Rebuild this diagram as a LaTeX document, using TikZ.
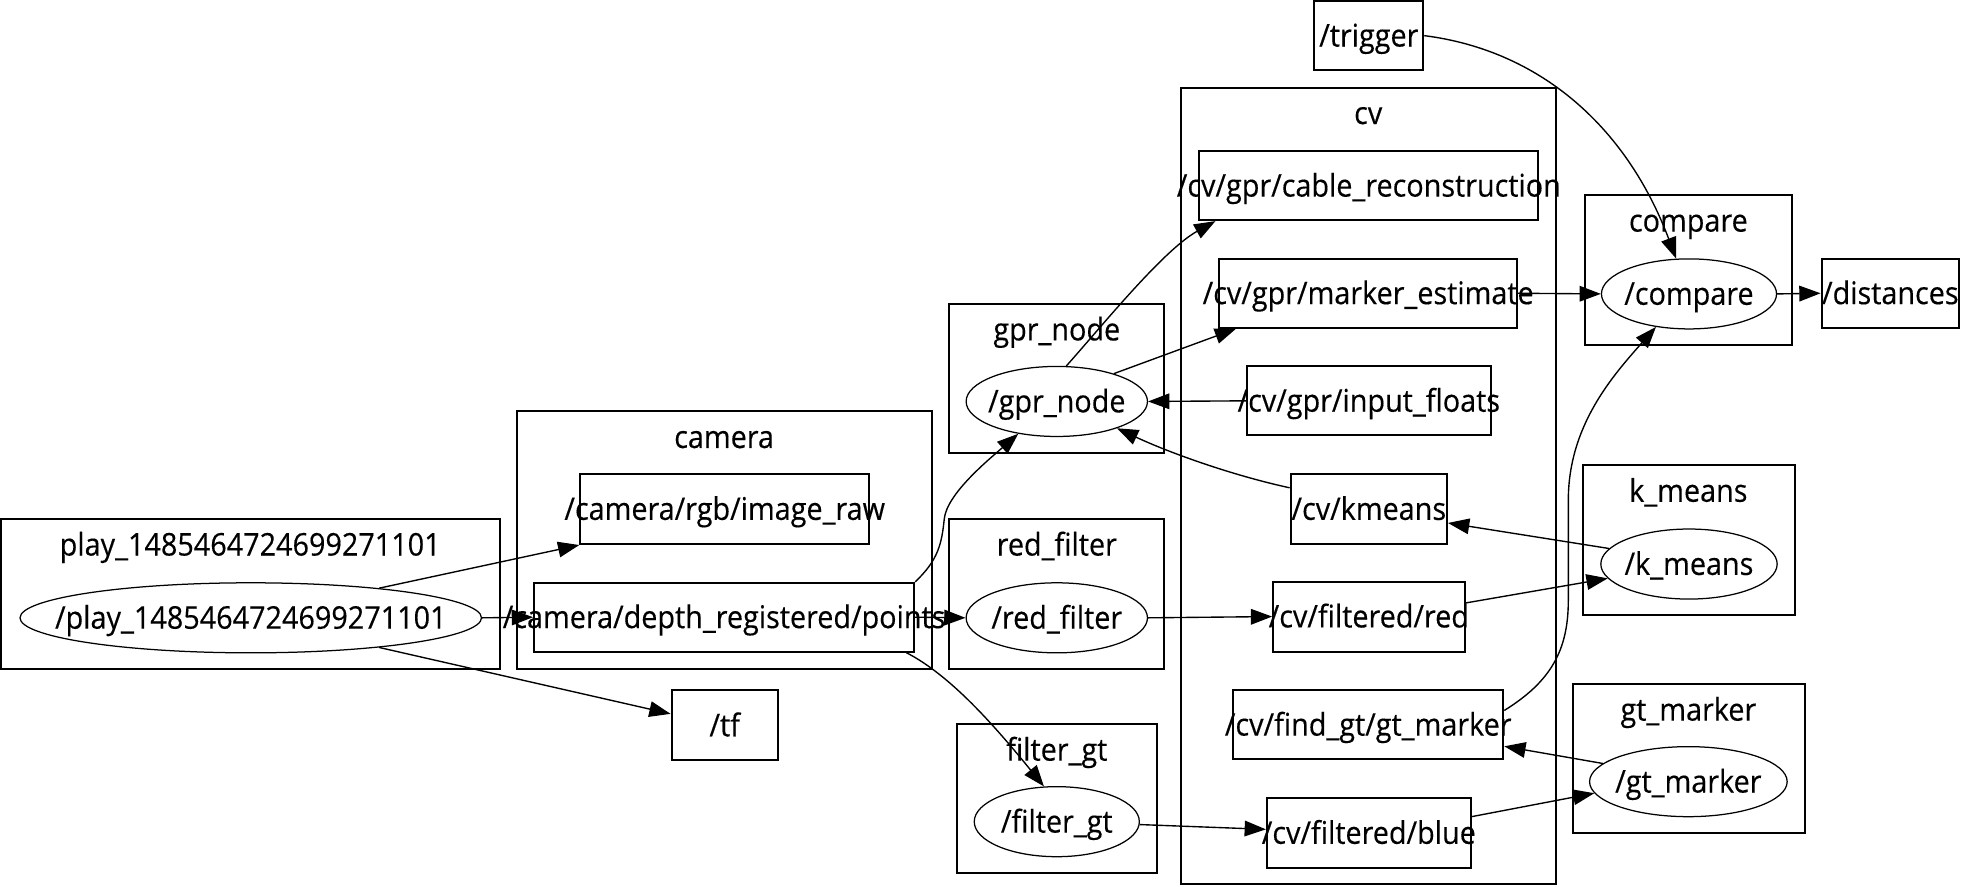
\documentclass[tikz,border=0pt]{standalone}
\usepackage{fontspec}
\setmainfont[FakeBold=0.3,FakeStretch=0.92]{Open Sans}
\usetikzlibrary{arrows.meta,shapes.geometric}
\begin{document}
\begin{tikzpicture}[x=1pt,y=-1pt,
  font=\fontsize{25}{29}\selectfont,
  every node/.style={text height=20pt,text depth=2.6pt},
  cluster/.style={draw,rectangle,line width=1.6pt,inner sep=0pt},
  topic/.style={draw,rectangle,line width=1.6pt,inner sep=0pt},
  rosnode/.style={draw,ellipse,line width=1pt,inner sep=0pt},
  clabel/.style={inner sep=0pt},
  conn/.style={line width=1.1pt,-{Triangle[length=17pt,width=12.5pt]}},
]
\useasboundingbox (0,0) rectangle (1568,709);
\newcommand{\nt}[1]{\makebox[0pt]{#1}}

% namespace groups
\node[cluster,minimum width=399pt,minimum height=120pt] (playg) at (200.5,475) {};
\node[clabel] (playl) at (200,435.5) {play\_1485464724699271101};
\node[cluster,minimum width=332pt,minimum height=206pt] (camg) at (579,432) {};
\node[clabel] (caml) at (579,349.5) {camera};
\node[cluster,minimum width=172pt,minimum height=119pt] (gprg) at (845,302.5) {};
\node[clabel] (gprl) at (845,263.5) {gpr\_node};
\node[cluster,minimum width=172pt,minimum height=120pt] (redg) at (845,475) {};
\node[clabel] (redl) at (845,435.5) {red\_filter};
\node[cluster,minimum width=160pt,minimum height=119pt] (fgtg) at (845,638.5) {};
\node[clabel] (fgtl) at (845,599.5) {filter\_gt};
\node[cluster,minimum width=300pt,minimum height=637pt] (cvg) at (1094,388.5) {};
\node[clabel] (cvl) at (1094,90.5) {cv};
\node[cluster,minimum width=166pt,minimum height=120pt] (cmpg) at (1350,216) {};
\node[clabel] (cmpl) at (1350,176.5) {compare};
\node[cluster,minimum width=169pt,minimum height=120pt] (kmg) at (1350.5,432) {};
\node[clabel] (kml) at (1350,392.5) {k\_means};
\node[cluster,minimum width=185pt,minimum height=119pt] (gtg) at (1350.5,606.5) {};
\node[clabel] (gtl) at (1350,567.5) {gt\_marker};

% processes
\node[rosnode,minimum width=369pt,minimum height=56pt] (play) at (200.5,494) {\nt{/play\_1485464724699271101}};
\node[rosnode,minimum width=145pt,minimum height=56pt] (gpr) at (845,321) {\nt{/gpr\_node}};
\node[rosnode,minimum width=145pt,minimum height=56pt] (redf) at (845,494) {\nt{/red\_filter}};
\node[rosnode,minimum width=132pt,minimum height=56pt] (fgt) at (845,657) {\nt{/filter\_gt}};
\node[rosnode,minimum width=140pt,minimum height=56pt] (comp) at (1350.5,235) {\nt{/compare}};
\node[rosnode,minimum width=141pt,minimum height=56pt] (kme) at (1350.5,451) {\nt{/k\_means}};
\node[rosnode,minimum width=158pt,minimum height=56pt] (gte) at (1350,625) {\nt{/gt\_marker}};

% topics
\node[topic,minimum width=87pt,minimum height=55pt] (trigger) at (1094.5,28.5) {\nt{/trigger}};
\node[topic,minimum width=271pt,minimum height=55pt] (cable) at (1094.5,148.5) {\nt{/cv/gpr/cable\_reconstruction}};
\node[topic,minimum width=238pt,minimum height=55pt] (marker) at (1094,234.5) {\nt{/cv/gpr/marker\_estimate}};
\node[topic,minimum width=195pt,minimum height=55pt] (inputf) at (1094.5,320.5) {\nt{/cv/gpr/input\_floats}};
\node[topic,minimum width=125pt,minimum height=56pt] (kmeansb) at (1094.5,407) {\nt{/cv/kmeans}};
\node[topic,minimum width=153pt,minimum height=56pt] (filtred) at (1094.5,493) {\nt{/cv/filtered/red}};
\node[topic,minimum width=216pt,minimum height=55pt] (gtmb) at (1094,579.5) {\nt{/cv/find\_gt/gt\_marker}};
\node[topic,minimum width=163pt,minimum height=56pt] (filtblue) at (1094.5,666) {\nt{/cv/filtered/blue}};
\node[topic,minimum width=110pt,minimum height=55pt] (dist) at (1511.5,234.5) {\nt{/distances}};
\node[topic,minimum width=231pt,minimum height=56pt] (rgb) at (579.5,407) {\nt{/camera/rgb/image\_raw}};
\node[topic,minimum width=304pt,minimum height=55pt] (depth) at (579,493.5) {\nt{/camera/depth\_registered/points}};
\node[topic,minimum width=85pt,minimum height=56pt] (tf) at (579.5,580) {\nt{/tf}};

% connections
\draw[conn] (play.13) -- (rgb.south west);
\draw[conn] (play.east) -- (depth.west);
\draw[conn] (play.-13) -- (tf.168);
\draw[conn] (depth.north east) .. controls (750,448) and (753,435) .. (755,415)
  .. controls (757,395) and (790,368) .. (gpr.-140);
\draw[conn] (depth.east) -- (redf.west);
\draw[conn] (depth.-11.2) .. controls (760,540) and (795,580) .. (fgt.110);
\draw[conn] (gpr.75) .. controls (880,262) and (930,200) .. (cable.-167.5);
\draw[conn] (gpr.26) -- (marker.-165.5);
\draw[conn] (inputf.west) -- (gpr.east);
\draw[conn] (kmeansb.165.6) .. controls (985,380) and (935,362) .. (gpr.-24);
\draw[conn] (redf.east) -- (filtred.west);
\draw[conn] (fgt.-2) -- (filtblue.178);
\draw[conn] (filtred.8.9) -- (kme.-170);
\draw[conn] (kme.169) -- (kmeansb.-10);
\draw[conn] (gtmb.6.6) .. controls (1240,545) and (1254,520) .. (1254,480)
  -- (1254,400) .. controls (1254,340) and (1290,300) .. (comp.-135);
\draw[conn] (gte.168) -- (gtmb.-9.7);
\draw[conn] (filtblue.9) -- (gte.-173);
\draw[conn] (marker.east) -- (comp.west);
\draw[conn] (trigger.east) .. controls (1230,40) and (1300,100) .. (comp.110);
\draw[conn] (comp.east) -- (dist.west);
\end{tikzpicture}
\end{document}
